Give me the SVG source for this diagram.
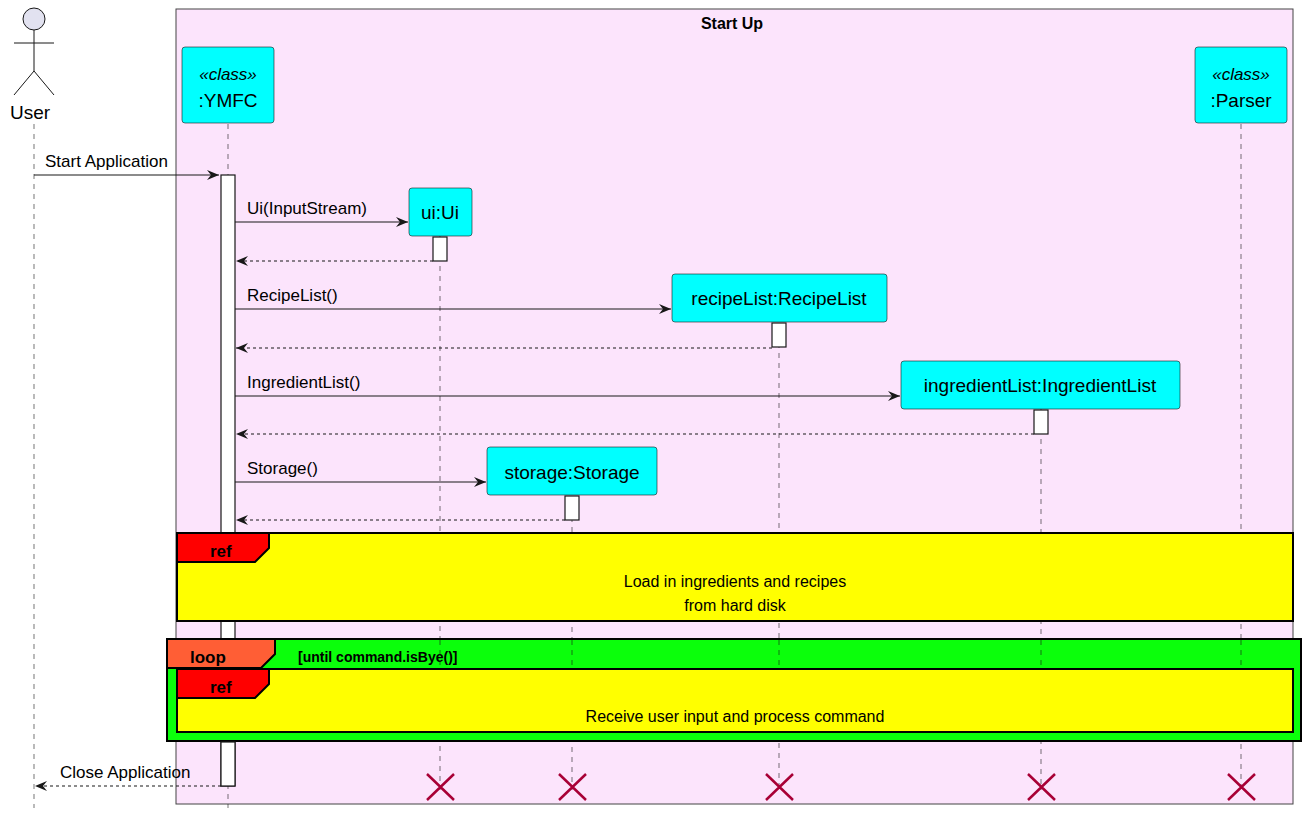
<svg xmlns="http://www.w3.org/2000/svg" width="1310" height="822" viewBox="0 0 1310 822">
<style>
text{font-family:"Liberation Sans",Arial,sans-serif;fill:#000}
.p{fill:#00FFFF;stroke:#181818;stroke-width:0.6}
.ll{stroke:#181818;stroke-width:0.6;stroke-dasharray:5,5}
.m{stroke:#181818;stroke-width:1.2;fill:none}
.r{stroke:#181818;stroke-width:1.2;fill:none;stroke-dasharray:3,3}
.act{fill:#fff;stroke:#181818;stroke-width:1.2}
.x{stroke:#A80036;stroke-width:2.5}
.lbl{font-size:17px}
.b{font-weight:bold}
</style>
<defs>
<marker id="a" viewBox="0 0 12 10" refX="12" refY="5" markerWidth="12" markerHeight="10" orient="auto" markerUnits="userSpaceOnUse"><path d="M0,0 L12,5 L0,10 L4,5 Z" fill="#181818"/></marker>
</defs>
<rect x="176" y="9" width="1117" height="795" fill="#FCE4FC" stroke="#444" stroke-width="1"/>
<text x="732" y="29" text-anchor="middle" class="b" font-size="16">Start Up</text>
<g id="lifelines">
<line class="ll" x1="34" y1="124" x2="34" y2="808"/>
<line class="ll" x1="228" y1="124" x2="228" y2="808"/>
<line class="ll" x1="440" y1="236" x2="440" y2="790"/>
<line class="ll" x1="572" y1="497" x2="572" y2="790"/>
<line class="ll" x1="779" y1="323" x2="779" y2="790"/>
<line class="ll" x1="1041" y1="409" x2="1041" y2="790"/>
<line class="ll" x1="1241" y1="124" x2="1241" y2="790"/>
</g>
<rect class="act" x="221" y="175" width="14" height="611"/>
<g id="User">
<circle cx="34" cy="19" r="11" fill="#E2E2F0" stroke="#181818"/>
<path d="M34,30 V71 M14,43 H54 M14,95 L34,71 L54,95" stroke="#181818" fill="none"/>
<text x="30" y="119" text-anchor="middle" font-size="19">User</text>
</g>
<g id="YMFC"><rect class="p" x="182" y="47" width="92" height="76" rx="3"/>
<text x="228" y="80" text-anchor="middle" font-size="17" font-style="italic">«class»</text>
<text x="228" y="107" text-anchor="middle" font-size="19">:YMFC</text></g>
<g id="Parser"><rect class="p" x="1195" y="47" width="92" height="76" rx="3"/>
<text x="1241" y="80" text-anchor="middle" font-size="17" font-style="italic">«class»</text>
<text x="1241" y="107" text-anchor="middle" font-size="19">:Parser</text></g>
<g id="ui"><rect class="p" x="409" y="188" width="63" height="48" rx="3"/>
<text x="440" y="219" text-anchor="middle" font-size="19">ui:Ui</text>
<rect class="act" x="433" y="237" width="14" height="24"/></g>
<g id="recipeList"><rect class="p" x="672" y="274" width="215" height="48" rx="3"/>
<text x="779" y="305" text-anchor="middle" font-size="19">recipeList:RecipeList</text>
<rect class="act" x="772" y="323" width="14" height="24"/></g>
<g id="ingredientList"><rect class="p" x="901" y="361" width="279" height="48" rx="3"/>
<text x="1040" y="392" text-anchor="middle" font-size="19">ingredientList:IngredientList</text>
<rect class="act" x="1034" y="410" width="14" height="24"/></g>
<g id="storage"><rect class="p" x="487" y="447" width="170" height="48" rx="3"/>
<text x="572" y="479" text-anchor="middle" font-size="19">storage:Storage</text>
<rect class="act" x="565" y="496" width="14" height="24"/></g>
<g id="connectors">
<line class="m" x1="34" y1="175" x2="219" y2="175" marker-end="url(#a)"/>
<text x="45" y="167" class="lbl">Start Application</text>
<line class="m" x1="235" y1="222" x2="408" y2="222" marker-end="url(#a)"/>
<text x="247" y="214" class="lbl">Ui(InputStream)</text>
<line class="r" x1="433" y1="261" x2="236" y2="261" marker-end="url(#a)"/>
<line class="m" x1="235" y1="309" x2="671" y2="309" marker-end="url(#a)"/>
<text x="247" y="301" class="lbl">RecipeList()</text>
<line class="r" x1="772" y1="348" x2="236" y2="348" marker-end="url(#a)"/>
<line class="m" x1="235" y1="396" x2="900" y2="396" marker-end="url(#a)"/>
<text x="247" y="388" class="lbl">IngredientList()</text>
<line class="r" x1="1034" y1="434" x2="236" y2="434" marker-end="url(#a)"/>
<line class="m" x1="235" y1="482" x2="486" y2="482" marker-end="url(#a)"/>
<text x="247" y="474" class="lbl">Storage()</text>
<line class="r" x1="565" y1="520" x2="236" y2="520" marker-end="url(#a)"/>
<line class="r" x1="221" y1="786" x2="35" y2="786" marker-end="url(#a)"/>
<text x="60" y="778" class="lbl">Close Application</text>
</g>
<g id="ref1">
<rect x="177" y="533" width="1116" height="88" fill="#FFFF00" stroke="#000" stroke-width="2"/>
<path d="M177,533 H269 V548 L255,562 H177 Z" fill="#FF0000" stroke="#000" stroke-width="2"/>
<text x="210" y="557" class="b" font-size="17">ref</text>
<text x="735" y="587" text-anchor="middle" font-size="16">Load in ingredients and recipes</text>
<text x="735" y="611" text-anchor="middle" font-size="16">from hard disk</text>
</g>
<g id="loop">
<rect x="167" y="639" width="1134" height="102" fill="#0BFF0B" stroke="#000" stroke-width="2"/>
<path d="M167,639 H275 V654 L261,668 H167 Z" fill="#FF5E35" stroke="#000" stroke-width="2"/>
<text x="190" y="663" class="b" font-size="17">loop</text>
<text x="298" y="662" class="b" font-size="14">[until command.isBye()]</text>
<line class="ll" x1="440" y1="640" x2="440" y2="668"/>
<line class="ll" x1="572" y1="640" x2="572" y2="668"/>
<line class="ll" x1="779" y1="640" x2="779" y2="668"/>
<line class="ll" x1="1041" y1="640" x2="1041" y2="668"/>
<line class="ll" x1="1241" y1="640" x2="1241" y2="668"/>
</g>
<g id="ref2">
<rect x="177" y="669" width="1116" height="63" fill="#FFFF00" stroke="#000" stroke-width="2"/>
<path d="M177,669 H269 V684 L255,698 H177 Z" fill="#FF0000" stroke="#000" stroke-width="2"/>
<text x="210" y="693" class="b" font-size="17">ref</text>
<text x="735" y="722" text-anchor="middle" font-size="16">Receive user input and process command</text>
</g>
<rect class="act" x="221" y="742" width="14" height="44"/>
<g id="destroys">
<path class="x" d="M427,774 L454,800 M454,774 L427,800"/>
<path class="x" d="M559,774 L586,800 M586,774 L559,800"/>
<path class="x" d="M766,774 L793,800 M793,774 L766,800"/>
<path class="x" d="M1028,774 L1055,800 M1055,774 L1028,800"/>
<path class="x" d="M1228,774 L1255,800 M1255,774 L1228,800"/>
</g>
</svg>
